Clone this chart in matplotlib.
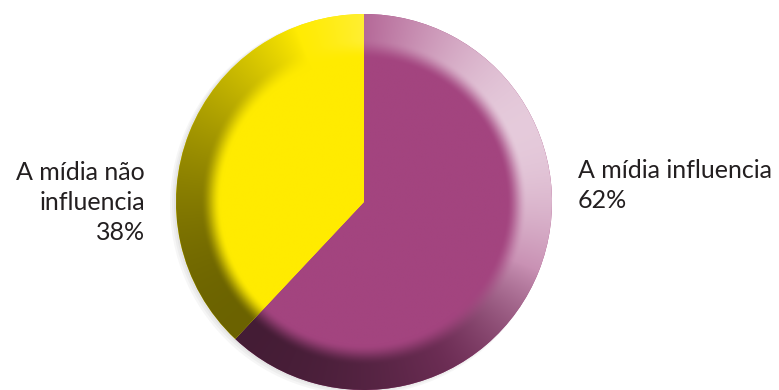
import numpy as np
import matplotlib.pyplot as plt
from matplotlib.colors import to_rgb

labels = ["A mídia influencia", "A mídia não\ninfluencia"]
values = [62, 38]
colors = ["#A3447F", "#FFEB00"]

cx, cy, R = 364, 188, 188


def shade_image(base, xs, ys):
    # bevel: light from the upper right, shadow at the lower left
    X, Y = np.meshgrid(xs, ys)
    dx, dy = (X - cx) / R, (Y - cy) / R
    rho = np.hypot(dx, dy)
    th = np.arctan2(dy, dx)
    t = np.clip((rho - 0.76) / 0.11, 0, 1)
    ring = t * t * (3 - 2 * t)
    light = ring * 0.72 * np.clip(np.cos(th - np.radians(25)), 0, 1) ** 1.5
    d = np.clip((np.cos(th - np.radians(225)) + 0.4) / 1.4, 0, 1)
    dark = ring * 0.58 * d ** 0.8
    img = np.empty(X.shape + (3,))
    for k, c in enumerate(to_rgb(base)):
        v = c + (1 - c) * light
        img[..., k] = v * (1 - dark)
    return img


fig = plt.figure(figsize=(7.79, 3.9), dpi=100)
ax = fig.add_axes([0, 0, 1, 1])

# soft drop shadow
for i, a in enumerate([0.05, 0.05, 0.06, 0.08]):
    ax.add_patch(plt.Circle((cx - 4 + i, cy - 3 + i), R + 2 - i, color="#555555",
                            alpha=a, lw=0, zorder=0))

wedges, _ = ax.pie(values, colors=colors, startangle=90, counterclock=False,
                   center=(cx, cy), radius=R, wedgeprops=dict(lw=0))

xs = np.linspace(cx - R, cx + R, 500)
ys = np.linspace(cy - R, cy + R, 500)
for w, c in zip(wedges, colors):
    im = ax.imshow(shade_image(c, xs, ys), extent=(cx - R, cx + R, cy - R, cy + R),
                   origin="lower", interpolation="bilinear", zorder=2)
    im.set_clip_path(w)

ax.set_xlim(0, 779)
ax.set_ylim(0, 390)
ax.set_aspect("equal")
ax.axis("off")

txt = dict(fontsize=18, color="#231F20", family="Lato", linespacing=1.38,
           va="baseline")
ax.text(578, 390 - 208, f"{labels[0]}\n{values[0]}%", ha="left", **txt)
ax.text(145, 390 - 240, f"{labels[1]}\n{values[1]}%", ha="right", **txt)

fig.savefig("out.png", dpi=100)
